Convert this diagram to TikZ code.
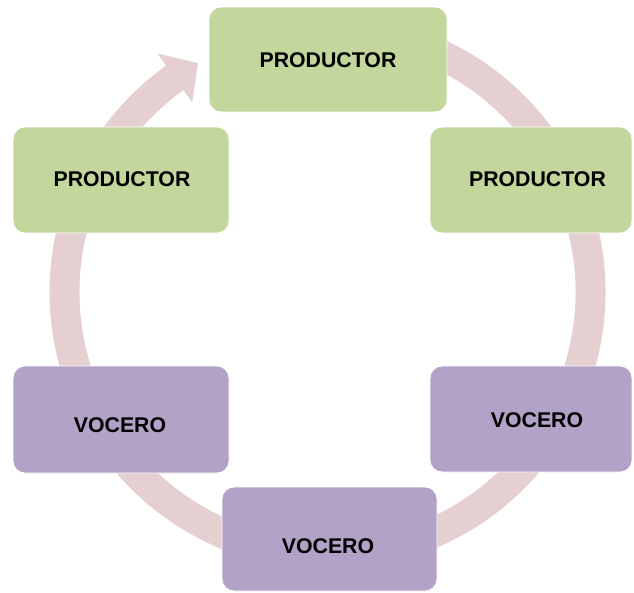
\documentclass[tikz,border=0pt]{standalone}
\usepackage{fontspec}
\setmainfont{Liberation Sans}
\usetikzlibrary{calc}

\definecolor{greenbox}{HTML}{C3D69B}
\definecolor{purplebox}{HTML}{B2A2C7}
\definecolor{ringpink}{HTML}{E6CFD1}

\tikzset{
  cardbox/.style={rounded corners=12pt, draw=white, line width=0.8pt, inner sep=0pt},
  prodbox/.style={cardbox, fill=greenbox},
  vocbox/.style={cardbox, fill=purplebox},
  cardtext/.style={font=\fontsize{21.3}{24}\selectfont\bfseries, text=black, inner sep=0pt},
  ring/.style={draw=ringpink, line width=30pt},
  ringhead/.style={fill=ringpink, draw=none}
}

\begin{document}
\begin{tikzpicture}[x=1pt, y=1pt]
  \useasboundingbox (0,0) rectangle (634,-592);

  % centre of the cycle
  \coordinate (c) at (327.5,-292);

  % cycle ring running clockwise, ending in an arrowhead
  \draw[ring] ($(c)+(110:263)$) arc[start angle=110, end angle=-234.7, radius=263];
  \fill[ringhead] ($(c)+(125.5:233)$) -- ($(c)+(119.5:263)$) -- ($(c)+(125.5:293)$) -- cycle;

  % boxes
  \node[prodbox, minimum width=238pt, minimum height=105pt] (btop)   at (328,-59.5)   {};
  \node[prodbox, minimum width=216pt, minimum height=106pt] (bpleft)  at (121,-180)    {};
  \node[prodbox, minimum width=202pt, minimum height=106pt] (bpright) at (531,-180)    {};
  \node[vocbox,  minimum width=216pt, minimum height=107pt] (bvleft)  at (121,-419.5)  {};
  \node[vocbox,  minimum width=202pt, minimum height=106pt] (bvright) at (531,-419)    {};
  \node[vocbox,  minimum width=215pt, minimum height=104pt] (bvbot)   at (329.5,-539)  {};

  % labels
  \node[cardtext] (ptop)   at (328,-60)    {PRODUCTOR};
  \node[cardtext] (pleft)  at (122,-179)   {PRODUCTOR};
  \node[cardtext] (pright) at (537.5,-179) {PRODUCTOR};
  \node[cardtext] (vleft)  at (120,-425.5) {VOCERO};
  \node[cardtext] (vright) at (537,-420)   {VOCERO};
  \node[cardtext] (vbot)   at (328,-546)   {VOCERO};
\end{tikzpicture}
\end{document}
